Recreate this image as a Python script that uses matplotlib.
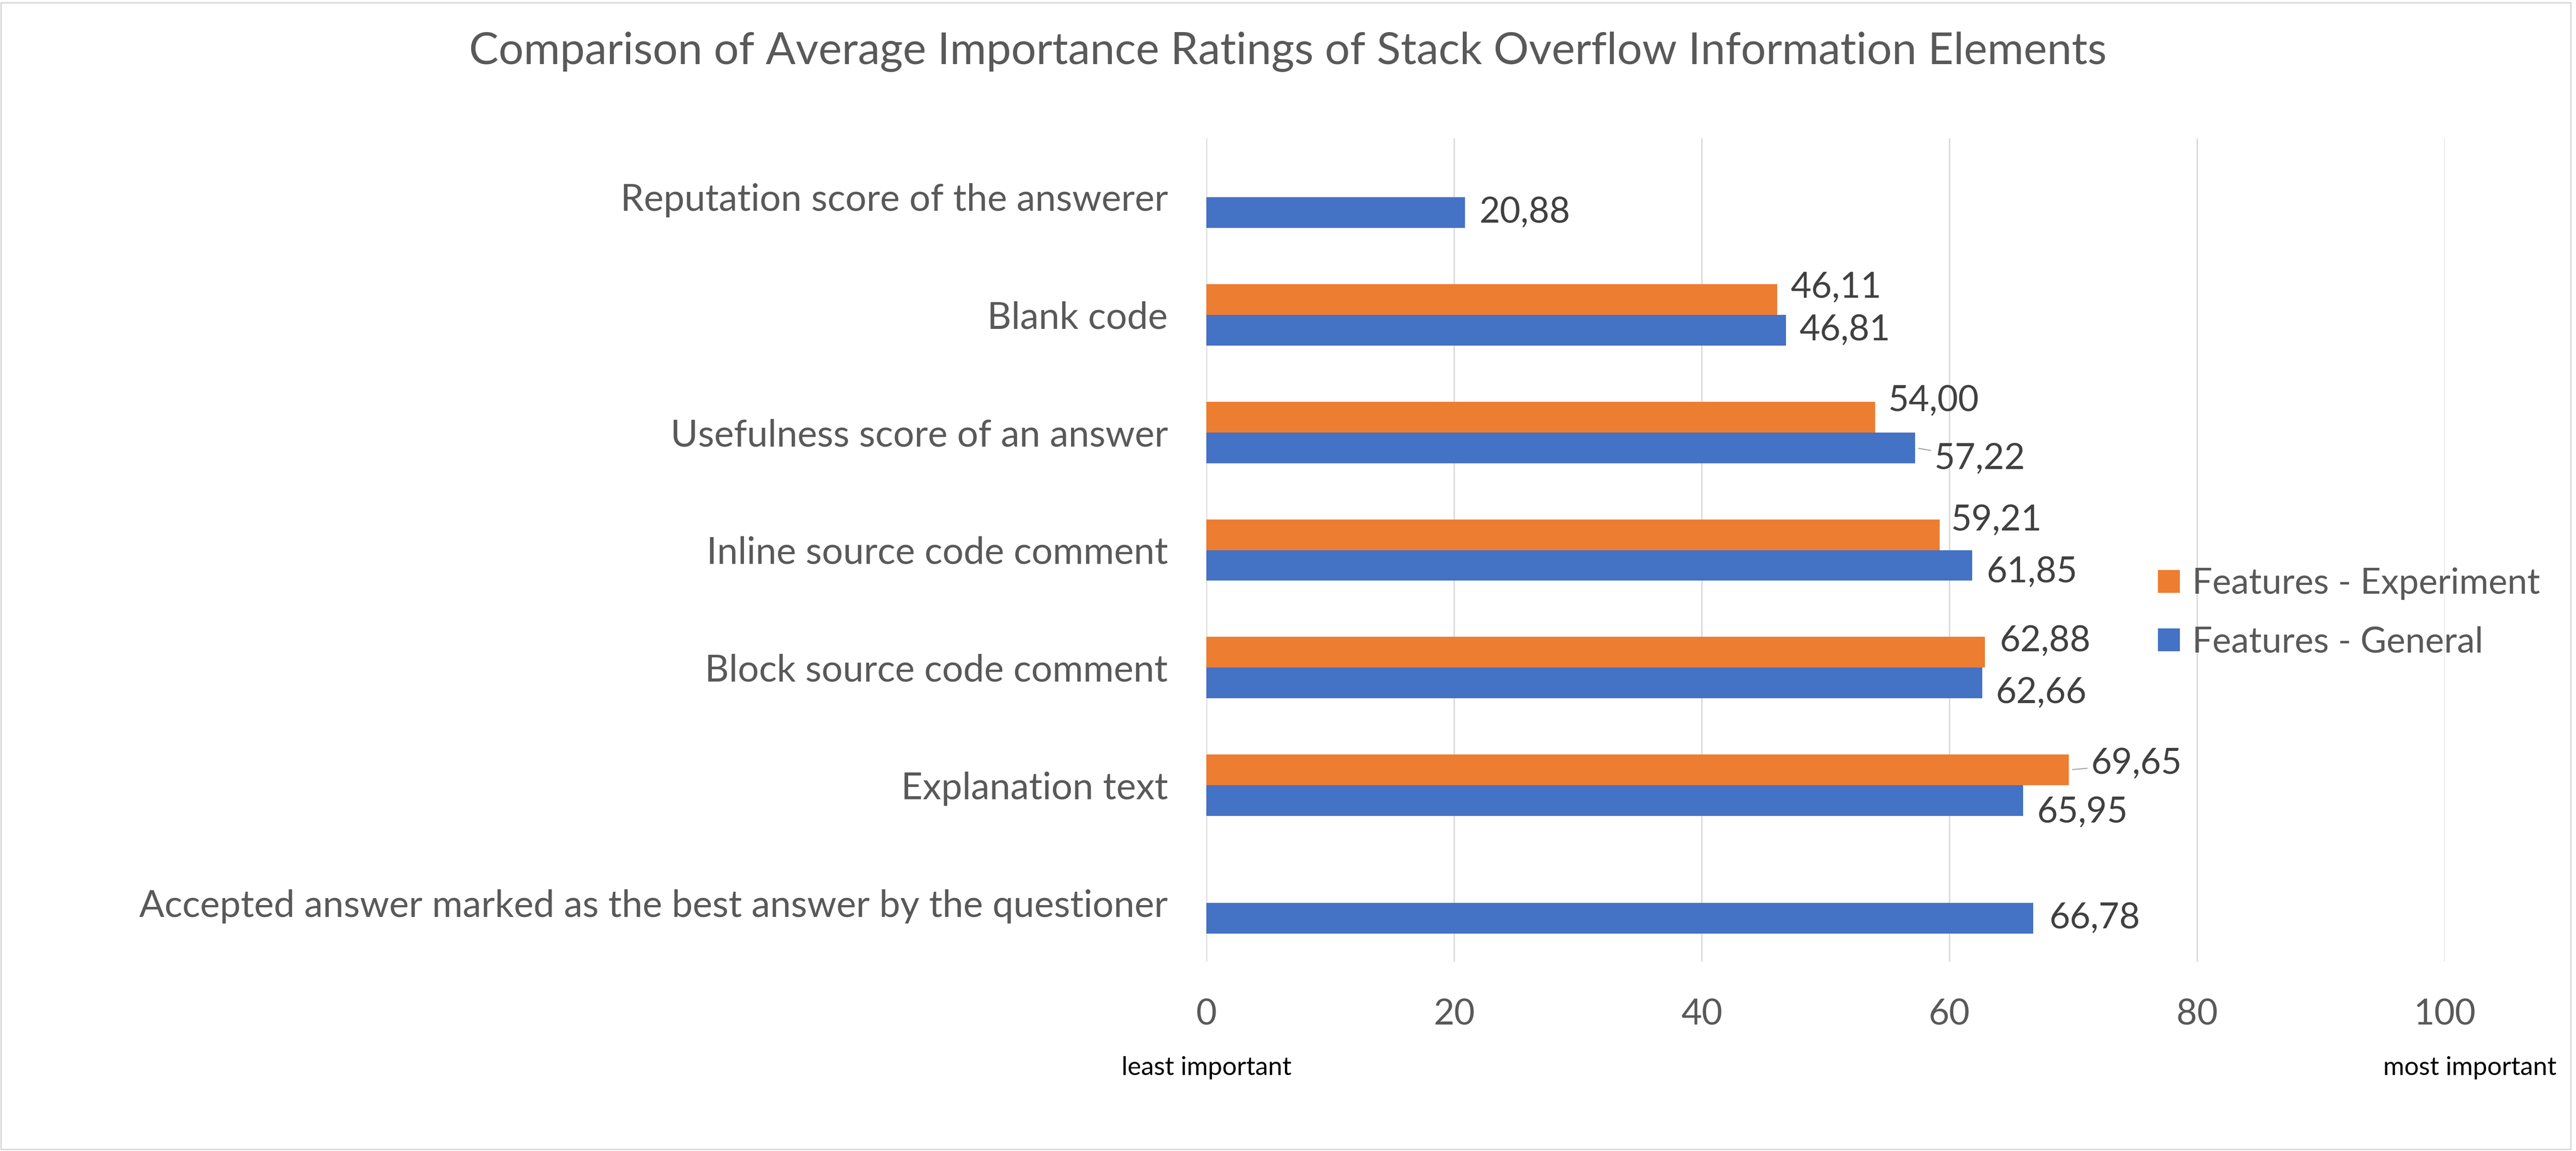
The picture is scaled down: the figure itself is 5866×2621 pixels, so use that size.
import numpy as np
import matplotlib
matplotlib.use("Agg")
import matplotlib.pyplot as plt
from matplotlib.patches import Rectangle

plt.rcParams['font.family'] = ['Lato', 'DejaVu Sans']

categories = [
    "Reputation score of the answerer",
    "Blank code",
    "Usefulness score of an answer",
    "Inline source code comment",
    "Block source code comment",
    "Explanation text",
    "Accepted answer marked as the best answer by the questioner",
]
experiment = [np.nan, 46.11, 54.00, 59.21, 62.88, 69.65, np.nan]
general = [20.88, 46.81, 57.22, 61.85, 62.66, 65.95, 66.78]
ticks = [0, 20, 40, 60, 80, 100]

# label nudges in pixels (dx, dy), dy positive = up
exp_off = [(0, 0), (30, 27), (30, 37), (26, 33), (33, 25), (50, 14), (0, 0)]
gen_off = [(32, 0), (30, 0), (44, -25), (32, -15), (31, -23), (32, -27), (36, 0)]
exp_leader = [False, False, False, False, False, True, False]
gen_leader = [False, False, True, False, False, False, False]

ORANGE = "#ED7D31"
BLUE = "#4472C4"
GRAY = "#595959"
LABEL = "#404040"

W, H = 5866, 2621
fig = plt.figure(figsize=(W / 300, H / 300), dpi=300)
fig.patches.append(Rectangle((2 / W, 4 / H), 1 - 14 / W, 1 - 10 / H, transform=fig.transFigure,
                             fill=False, edgecolor="#D9D9D9", linewidth=0.8))

ax = fig.add_axes([2747 / W, 1 - 2190 / H, 2820 / W, 1875 / H])

y = np.arange(len(categories))
bh = 0.261
b_exp = ax.barh(y - bh / 2, experiment, height=bh, color=ORANGE, label="Features - Experiment", zorder=3)
b_gen = ax.barh(y + bh / 2, general, height=bh, color=BLUE, label="Features - General", zorder=3)

fs = 19.5
for bars, vals, offs, leads in [(b_exp, experiment, exp_off, exp_leader),
                                (b_gen, general, gen_off, gen_leader)]:
    for bar, v, (dx, dy), lead in zip(bars, vals, offs, leads):
        if np.isnan(v):
            continue
        yc = bar.get_y() + bar.get_height() / 2
        kw = {}
        if lead:
            kw["arrowprops"] = dict(arrowstyle="-", color="#A6A6A6", lw=0.6, shrinkA=0, shrinkB=2)
        ax.annotate(f"{v:.2f}".replace(".", ","), xy=(v, yc), xytext=(dx, dy),
                    textcoords="offset pixels", ha="left", va="center",
                    fontsize=fs, color=LABEL, **kw)

ax.set_xlim(0, 100)
ax.set_ylim(len(categories) - 0.5, -0.5)
ax.set_xticks(ticks)
ax.set_yticks(y)
ax.set_yticklabels(categories)
ax.tick_params(axis="both", length=0, labelsize=fs, labelcolor=GRAY)
ax.tick_params(axis="y", pad=21, labelsize=20.4)
ax.tick_params(axis="x", pad=20)
ax.grid(axis="x", color="#D9D9D9", linewidth=0.75, zorder=0)
for s in ax.spines.values():
    s.set_visible(False)

fig.text(0.5, 1 - 118 / H, "Comparison of Average Importance Ratings of Stack Overflow Information Elements",
         ha="center", va="center", fontsize=24.2, color=GRAY)

fig.text(2748 / W, 1 - 2432 / H, "least important", ha="center", va="center", fontsize=14, color="black")
fig.text(5822 / W, 1 - 2432 / H, "most important", ha="right", va="center", fontsize=14, color="black")

fig.legend(handles=[b_exp, b_gen], loc="center left", bbox_to_anchor=(4914 / W, 1 - 1396 / H),
           frameon=False, fontsize=fs, labelcolor=GRAY, handlelength=0.61, handleheight=0.61,
           handletextpad=0.35, labelspacing=0.73, borderaxespad=0, borderpad=0)

fig.savefig("out.png", dpi=300)
